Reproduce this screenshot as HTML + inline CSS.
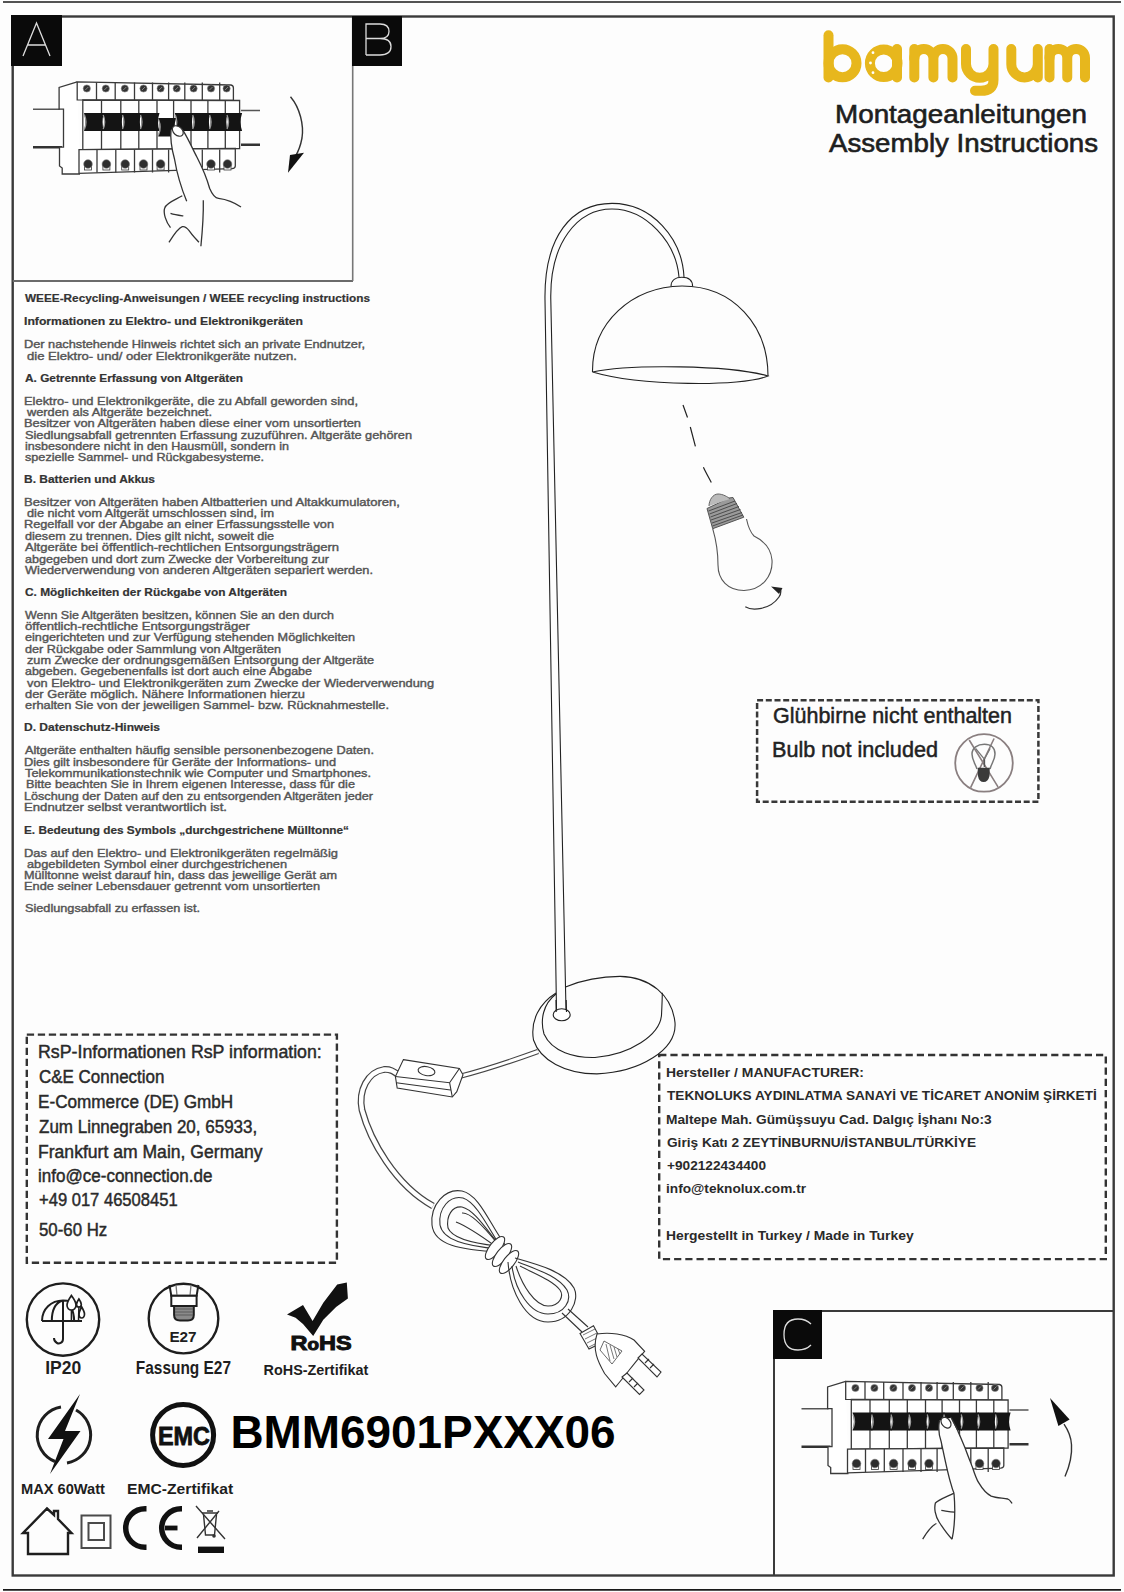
<!DOCTYPE html>
<html><head><meta charset="utf-8"><title>bamyum Montageanleitungen</title>
<style>
html,body{margin:0;padding:0;background:#fff;}
body{width:1124px;height:1592px;overflow:hidden;position:relative;font-family:"Liberation Sans", sans-serif;}
svg{position:absolute;left:0;top:0;display:block;}
text{font-family:"Liberation Sans", sans-serif;}
</style></head><body>
<svg width="1124" height="1592" viewBox="0 0 1124 1592">
<rect x="0" y="0" width="1124" height="1592" fill="#fdfdfd"/>
<line x1="3" y1="2" x2="1121" y2="2" stroke="#1a1a1a" stroke-width="1.6"/>
<line x1="3" y1="1589.8" x2="1121" y2="1589.8" stroke="#1a1a1a" stroke-width="1.8"/>
<rect x="12.7" y="16.5" width="1101" height="1559" fill="none" stroke="#3a3a3a" stroke-width="2.4"/>
<line x1="12.7" y1="281" x2="353" y2="281" stroke="#6a6a6a" stroke-width="2"/>
<line x1="352.7" y1="16.5" x2="352.7" y2="281" stroke="#777" stroke-width="1.6"/>
<rect x="11" y="15" width="51" height="51" fill="#0a0a0a"/>
<rect x="352" y="16" width="50" height="50" fill="#0a0a0a"/>
<line x1="773" y1="1311" x2="1113" y2="1311" stroke="#3a3a3a" stroke-width="2"/>
<line x1="774" y1="1311" x2="774" y2="1575" stroke="#3a3a3a" stroke-width="2"/>
<rect x="773" y="1310" width="49" height="49" fill="#0a0a0a"/>
<path d="M23 56 L36.5 23 L50 56 M27.5 45 L45.5 45" stroke="#ddd" stroke-width="1.3" fill="none"/>
<path d="M366 55 L366 24 L380 24 Q389 24 389 31.5 Q389 38.5 380 38.5 L366 38.5 M380 38.5 Q391 38.5 391 46.5 Q391 55 380 55 L366 55" stroke="#ddd" stroke-width="1.3" fill="none"/>
<path d="M811 1324 Q806 1319 798 1319 Q784 1319 784 1334.5 Q784 1350 798 1350 Q806 1350 811 1345" stroke="#ddd" stroke-width="1.3" fill="none"/>
<text x="25.0" y="302" font-size="10.9" font-weight="bold" fill="#333" stroke="#333" stroke-width="0.2" textLength="345.0" lengthAdjust="spacingAndGlyphs" >WEEE-Recycling-Anweisungen / WEEE recycling instructions</text>
<text x="24.0" y="325" font-size="10.9" font-weight="bold" fill="#333" stroke="#333" stroke-width="0.2" textLength="279.0" lengthAdjust="spacingAndGlyphs" >Informationen zu Elektro- und Elektronikgeräten</text>
<text x="24.0" y="348" font-size="10.9" font-weight="normal" fill="#555" stroke="#555" stroke-width="0.4" textLength="341.0" lengthAdjust="spacingAndGlyphs" >Der nachstehende Hinweis richtet sich an private Endnutzer,</text>
<text x="27.0" y="359.5" font-size="10.9" font-weight="normal" fill="#555" stroke="#555" stroke-width="0.4" textLength="270.0" lengthAdjust="spacingAndGlyphs" >die Elektro- und/ oder Elektronikgeräte nutzen.</text>
<text x="25.0" y="382" font-size="10.9" font-weight="bold" fill="#333" stroke="#333" stroke-width="0.2" textLength="218.0" lengthAdjust="spacingAndGlyphs" >A. Getrennte Erfassung von Altgeräten</text>
<text x="24.0" y="404.5" font-size="10.9" font-weight="normal" fill="#555" stroke="#555" stroke-width="0.4" textLength="334.0" lengthAdjust="spacingAndGlyphs" >Elektro- und Elektronikgeräte, die zu Abfall geworden sind,</text>
<text x="27.0" y="416" font-size="10.9" font-weight="normal" fill="#555" stroke="#555" stroke-width="0.4" textLength="185.0" lengthAdjust="spacingAndGlyphs" >werden als Altgeräte bezeichnet.</text>
<text x="24.0" y="427.3" font-size="10.9" font-weight="normal" fill="#555" stroke="#555" stroke-width="0.4" textLength="337.0" lengthAdjust="spacingAndGlyphs" >Besitzer von Altgeräten haben diese einer vom unsortierten</text>
<text x="25.0" y="438.5" font-size="10.9" font-weight="normal" fill="#555" stroke="#555" stroke-width="0.4" textLength="387.0" lengthAdjust="spacingAndGlyphs" >Siedlungsabfall getrennten Erfassung zuzuführen. Altgeräte gehören</text>
<text x="25.0" y="449.5" font-size="10.9" font-weight="normal" fill="#555" stroke="#555" stroke-width="0.4" textLength="264.0" lengthAdjust="spacingAndGlyphs" >insbesondere nicht in den Hausmüll, sondern in</text>
<text x="25.0" y="460.5" font-size="10.9" font-weight="normal" fill="#555" stroke="#555" stroke-width="0.4" textLength="239.0" lengthAdjust="spacingAndGlyphs" >spezielle Sammel- und Rückgabesysteme.</text>
<text x="24.0" y="483" font-size="10.9" font-weight="bold" fill="#333" stroke="#333" stroke-width="0.2" textLength="131.0" lengthAdjust="spacingAndGlyphs" >B. Batterien und Akkus</text>
<text x="24.0" y="505.7" font-size="10.9" font-weight="normal" fill="#555" stroke="#555" stroke-width="0.4" textLength="376.0" lengthAdjust="spacingAndGlyphs" >Besitzer von Altgeräten haben Altbatterien und Altakkumulatoren,</text>
<text x="27.0" y="517" font-size="10.9" font-weight="normal" fill="#555" stroke="#555" stroke-width="0.4" textLength="247.0" lengthAdjust="spacingAndGlyphs" >die nicht vom Altgerät umschlossen sind, im</text>
<text x="24.0" y="528.4" font-size="10.9" font-weight="normal" fill="#555" stroke="#555" stroke-width="0.4" textLength="310.0" lengthAdjust="spacingAndGlyphs" >Regelfall vor der Abgabe an einer Erfassungsstelle von</text>
<text x="25.0" y="539.8" font-size="10.9" font-weight="normal" fill="#555" stroke="#555" stroke-width="0.4" textLength="249.0" lengthAdjust="spacingAndGlyphs" >diesem zu trennen. Dies gilt nicht, soweit die</text>
<text x="25.0" y="551.2" font-size="10.9" font-weight="normal" fill="#555" stroke="#555" stroke-width="0.4" textLength="314.0" lengthAdjust="spacingAndGlyphs" >Altgeräte bei öffentlich-rechtlichen Entsorgungsträgern</text>
<text x="25.0" y="562.6" font-size="10.9" font-weight="normal" fill="#555" stroke="#555" stroke-width="0.4" textLength="304.0" lengthAdjust="spacingAndGlyphs" >abgegeben und dort zum Zwecke der Vorbereitung zur</text>
<text x="25.0" y="573.8" font-size="10.9" font-weight="normal" fill="#555" stroke="#555" stroke-width="0.4" textLength="348.0" lengthAdjust="spacingAndGlyphs" >Wiederverwendung von anderen Altgeräten separiert werden.</text>
<text x="25.0" y="596" font-size="10.9" font-weight="bold" fill="#333" stroke="#333" stroke-width="0.2" textLength="262.0" lengthAdjust="spacingAndGlyphs" >C. Möglichkeiten der Rückgabe von Altgeräten</text>
<text x="25.0" y="618.5" font-size="10.9" font-weight="normal" fill="#555" stroke="#555" stroke-width="0.4" textLength="309.0" lengthAdjust="spacingAndGlyphs" >Wenn Sie Altgeräten besitzen, können Sie an den durch</text>
<text x="25.0" y="630" font-size="10.9" font-weight="normal" fill="#555" stroke="#555" stroke-width="0.4" textLength="225.0" lengthAdjust="spacingAndGlyphs" >öffentlich-rechtliche Entsorgungsträger</text>
<text x="25.0" y="641.3" font-size="10.9" font-weight="normal" fill="#555" stroke="#555" stroke-width="0.4" textLength="330.0" lengthAdjust="spacingAndGlyphs" >eingerichteten und zur Verfügung stehenden Möglichkeiten</text>
<text x="25.0" y="652.7" font-size="10.9" font-weight="normal" fill="#555" stroke="#555" stroke-width="0.4" textLength="256.0" lengthAdjust="spacingAndGlyphs" >der Rückgabe oder Sammlung von Altgeräten</text>
<text x="27.0" y="664" font-size="10.9" font-weight="normal" fill="#555" stroke="#555" stroke-width="0.4" textLength="347.0" lengthAdjust="spacingAndGlyphs" >zum Zwecke der ordnungsgemäßen Entsorgung der Altgeräte</text>
<text x="25.0" y="675.2" font-size="10.9" font-weight="normal" fill="#555" stroke="#555" stroke-width="0.4" textLength="287.0" lengthAdjust="spacingAndGlyphs" >abgeben. Gegebenenfalls ist dort auch eine Abgabe</text>
<text x="27.0" y="686.5" font-size="10.9" font-weight="normal" fill="#555" stroke="#555" stroke-width="0.4" textLength="407.0" lengthAdjust="spacingAndGlyphs" >von Elektro- und Elektronikgeräten zum Zwecke der Wiederverwendung</text>
<text x="25.0" y="698" font-size="10.9" font-weight="normal" fill="#555" stroke="#555" stroke-width="0.4" textLength="280.0" lengthAdjust="spacingAndGlyphs" >der Geräte möglich. Nähere Informationen hierzu</text>
<text x="25.0" y="709.3" font-size="10.9" font-weight="normal" fill="#555" stroke="#555" stroke-width="0.4" textLength="364.0" lengthAdjust="spacingAndGlyphs" >erhalten Sie von der jeweiligen Sammel- bzw. Rücknahmestelle.</text>
<text x="24.0" y="730.5" font-size="10.9" font-weight="bold" fill="#333" stroke="#333" stroke-width="0.2" textLength="136.0" lengthAdjust="spacingAndGlyphs" >D. Datenschutz-Hinweis</text>
<text x="25.0" y="754.2" font-size="10.9" font-weight="normal" fill="#555" stroke="#555" stroke-width="0.4" textLength="349.0" lengthAdjust="spacingAndGlyphs" >Altgeräte enthalten häufig sensible personenbezogene Daten.</text>
<text x="24.0" y="765.6" font-size="10.9" font-weight="normal" fill="#555" stroke="#555" stroke-width="0.4" textLength="312.0" lengthAdjust="spacingAndGlyphs" >Dies gilt insbesondere für Geräte der Informations- und</text>
<text x="25.0" y="777" font-size="10.9" font-weight="normal" fill="#555" stroke="#555" stroke-width="0.4" textLength="346.0" lengthAdjust="spacingAndGlyphs" >Telekommunikationstechnik wie Computer und Smartphones.</text>
<text x="26.0" y="788.4" font-size="10.9" font-weight="normal" fill="#555" stroke="#555" stroke-width="0.4" textLength="329.0" lengthAdjust="spacingAndGlyphs" >Bitte beachten Sie in Ihrem eigenen Interesse, dass für die</text>
<text x="24.0" y="799.8" font-size="10.9" font-weight="normal" fill="#555" stroke="#555" stroke-width="0.4" textLength="349.0" lengthAdjust="spacingAndGlyphs" >Löschung der Daten auf den zu entsorgenden Altgeräten jeder</text>
<text x="24.0" y="810.8" font-size="10.9" font-weight="normal" fill="#555" stroke="#555" stroke-width="0.4" textLength="203.0" lengthAdjust="spacingAndGlyphs" >Endnutzer selbst verantwortlich ist.</text>
<text x="24.0" y="833.5" font-size="10.9" font-weight="bold" fill="#333" stroke="#333" stroke-width="0.2" textLength="325.0" lengthAdjust="spacingAndGlyphs" >E. Bedeutung des Symbols „durchgestrichene Mülltonne“</text>
<text x="24.0" y="856.7" font-size="10.9" font-weight="normal" fill="#555" stroke="#555" stroke-width="0.4" textLength="314.0" lengthAdjust="spacingAndGlyphs" >Das auf den Elektro- und Elektronikgeräten regelmäßig</text>
<text x="27.0" y="867.5" font-size="10.9" font-weight="normal" fill="#555" stroke="#555" stroke-width="0.4" textLength="260.0" lengthAdjust="spacingAndGlyphs" >abgebildeten Symbol einer durchgestrichenen</text>
<text x="24.0" y="878.5" font-size="10.9" font-weight="normal" fill="#555" stroke="#555" stroke-width="0.4" textLength="313.0" lengthAdjust="spacingAndGlyphs" >Mülltonne weist darauf hin, dass das jeweilige Gerät am</text>
<text x="24.0" y="889.5" font-size="10.9" font-weight="normal" fill="#555" stroke="#555" stroke-width="0.4" textLength="296.0" lengthAdjust="spacingAndGlyphs" >Ende seiner Lebensdauer getrennt vom unsortierten</text>
<text x="25.0" y="912.2" font-size="10.9" font-weight="normal" fill="#555" stroke="#555" stroke-width="0.4" textLength="175.0" lengthAdjust="spacingAndGlyphs" >Siedlungsabfall zu erfassen ist.</text>
<path d="M828.5,35.3 L828.5,77.5" fill="none" stroke="#E7B71D" stroke-width="10" stroke-linecap="round"/>
<circle cx="842.5" cy="63.2" r="14" fill="none" stroke="#E7B71D" stroke-width="10"/>
<circle cx="883.7" cy="63.2" r="13.8" fill="none" stroke="#E7B71D" stroke-width="10"/>
<path d="M897,49 L897,77.5" fill="none" stroke="#E7B71D" stroke-width="10" stroke-linecap="round"/>
<circle cx="873" cy="52.7" r="1.4" fill="#fff"/><circle cx="870.5" cy="63" r="1.4" fill="#fff"/><circle cx="873" cy="72.7" r="1.4" fill="#fff"/>
<path d="M914.3,77.5 L914.3,58.55000000000001 A9.550000000000011,9.550000000000011 0 0 1 933.4,58.55000000000001 L933.4,77.5 M933.4,58.55000000000001 A9.550000000000011,9.550000000000011 0 0 1 952.5,58.55000000000001 L952.5,77.5" fill="none" stroke="#E7B71D" stroke-width="10" stroke-linecap="round"/>
<path d="M914.3,49 L914.3,58.55000000000001" fill="none" stroke="#E7B71D" stroke-width="10" stroke-linecap="round"/>
<path d="M966,49 L966,64 A13.75,13.75 0 0 0 993.5,64 M993.5,49 L993.5,80 Q993.5,90.8 981,90.8 L975,90.8" fill="none" stroke="#E7B71D" stroke-width="10" stroke-linecap="round"/>
<path d="M1011.3,49 L1011.3,64.2 A13.25,13.25 0 0 0 1037.8,64.2 M1037.8,49 L1037.8,77.5" fill="none" stroke="#E7B71D" stroke-width="10" stroke-linecap="round"/>
<path d="M1049.5,77.5 L1049.5,57.875 A8.875,8.875 0 0 1 1067.25,57.875 L1067.25,77.5 M1067.25,57.875 A8.875,8.875 0 0 1 1085.0,57.875 L1085.0,77.5" fill="none" stroke="#E7B71D" stroke-width="10" stroke-linecap="round"/>
<path d="M1049.5,49 L1049.5,57.875" fill="none" stroke="#E7B71D" stroke-width="10" stroke-linecap="round"/>
<text x="835.0" y="122.7" font-size="25.5" font-weight="normal" fill="#1e1e1e" stroke="#1e1e1e" stroke-width="0.6" textLength="252.0" lengthAdjust="spacingAndGlyphs" >Montageanleitungen</text>
<text x="829.0" y="152" font-size="25.5" font-weight="normal" fill="#1e1e1e" stroke="#1e1e1e" stroke-width="0.6" textLength="269.0" lengthAdjust="spacingAndGlyphs" >Assembly Instructions</text>
<rect x="757.1" y="700.2" width="281.3" height="101.5" fill="none" stroke="#383838" stroke-width="2.5" stroke-dasharray="6 2.7"/>
<text x="773.0" y="723" font-size="22" font-weight="normal" fill="#222" stroke="#222" stroke-width="0.5" textLength="239.0" lengthAdjust="spacingAndGlyphs" >Glühbirne nicht enthalten</text>
<text x="772.0" y="756.9" font-size="22" font-weight="normal" fill="#222" stroke="#222" stroke-width="0.5" textLength="166.0" lengthAdjust="spacingAndGlyphs" >Bulb not included</text>
<circle cx="984" cy="762.9" r="28.8" fill="none" stroke="#8a7f80" stroke-width="1.8"/>
<path d="M969.2,740 L998,786.9 M994.1,738.5 L970.6,787.6" stroke="#8a7f80" stroke-width="1.6"/>
<path d="M977,769 C975,763 972,760 972,754 C972,748 977.5,744.2 984.4,744.2 C991,744.2 995,748 995,754 C995,760 991.5,763 990,769" fill="none" stroke="#777" stroke-width="1.5"/>
<path d="M975.6,748.5 L984.4,759.2 L990.2,748.5" fill="none" stroke="#777" stroke-width="1.2"/>
<path d="M984.4,759.2 L984.4,767" stroke="#555" stroke-width="1.5"/>
<path d="M977.7,767.7 L989.8,767.7 L989.5,776 Q988,782 983.7,782 Q979,782 978,776 Z" fill="#3a3a3a"/>
<rect x="26.8" y="1034.6" width="310.1" height="228.1" fill="none" stroke="#333" stroke-width="2.4" stroke-dasharray="7.3 3.7"/>
<text x="38.0" y="1058.4" font-size="17.5" font-weight="normal" fill="#2a2a2a" stroke="#2a2a2a" stroke-width="0.45" textLength="283.8" lengthAdjust="spacingAndGlyphs" >RsP-Informationen RsP information:</text>
<text x="39.0" y="1083.1" font-size="17.5" font-weight="normal" fill="#2a2a2a" stroke="#2a2a2a" stroke-width="0.45" textLength="125.4" lengthAdjust="spacingAndGlyphs" >C&amp;E Connection</text>
<text x="38.0" y="1108" font-size="17.5" font-weight="normal" fill="#2a2a2a" stroke="#2a2a2a" stroke-width="0.45" textLength="195.2" lengthAdjust="spacingAndGlyphs" >E-Commerce (DE) GmbH</text>
<text x="39.0" y="1133" font-size="17.5" font-weight="normal" fill="#2a2a2a" stroke="#2a2a2a" stroke-width="0.45" textLength="218.2" lengthAdjust="spacingAndGlyphs" >Zum Linnegraben 20, 65933,</text>
<text x="38.0" y="1157.7" font-size="17.5" font-weight="normal" fill="#2a2a2a" stroke="#2a2a2a" stroke-width="0.45" textLength="224.6" lengthAdjust="spacingAndGlyphs" >Frankfurt am Main, Germany</text>
<text x="38.0" y="1181.8" font-size="17.5" font-weight="normal" fill="#2a2a2a" stroke="#2a2a2a" stroke-width="0.45" textLength="174.4" lengthAdjust="spacingAndGlyphs" >info@ce-connection.de</text>
<text x="39.0" y="1205.8" font-size="17.5" font-weight="normal" fill="#2a2a2a" stroke="#2a2a2a" stroke-width="0.45" textLength="138.6" lengthAdjust="spacingAndGlyphs" >+49 017 46508451</text>
<text x="39.0" y="1236.2" font-size="17.5" font-weight="normal" fill="#2a2a2a" stroke="#2a2a2a" stroke-width="0.45" textLength="68.2" lengthAdjust="spacingAndGlyphs" >50-60 Hz</text>
<rect x="659.2" y="1055" width="446.6" height="204.1" fill="none" stroke="#333" stroke-width="2.4" stroke-dasharray="7.2 4"/>
<text x="666.0" y="1076.8" font-size="13.6" font-weight="bold" fill="#2a2a2a" textLength="198.0" lengthAdjust="spacingAndGlyphs" >Hersteller / MANUFACTURER:</text>
<text x="667.0" y="1100.2" font-size="13.6" font-weight="bold" fill="#2a2a2a" textLength="429.8" lengthAdjust="spacingAndGlyphs" >TEKNOLUKS AYDINLATMA SANAYİ VE TİCARET ANONİM ŞİRKETİ</text>
<text x="666.0" y="1123.5" font-size="13.6" font-weight="bold" fill="#2a2a2a" textLength="325.6" lengthAdjust="spacingAndGlyphs" >Maltepe Mah. Gümüşsuyu Cad. Dalgıç İşhanı No:3</text>
<text x="667.0" y="1146.5" font-size="13.6" font-weight="bold" fill="#2a2a2a" textLength="309.0" lengthAdjust="spacingAndGlyphs" >Giriş Katı 2 ZEYTİNBURNU/İSTANBUL/TÜRKİYE</text>
<text x="667.0" y="1169.9" font-size="13.6" font-weight="bold" fill="#2a2a2a" textLength="99.0" lengthAdjust="spacingAndGlyphs" >+902122434400</text>
<text x="666.0" y="1192.7" font-size="13.6" font-weight="bold" fill="#2a2a2a" textLength="140.0" lengthAdjust="spacingAndGlyphs" >info@teknolux.com.tr</text>
<text x="666.0" y="1240.3" font-size="13.6" font-weight="bold" fill="#2a2a2a" textLength="247.6" lengthAdjust="spacingAndGlyphs" >Hergestellt in Turkey / Made in Turkey</text>
<text x="45.20000000000002" y="1374.3" font-size="17.5" font-weight="bold" fill="#1e1e1e" textLength="36.0" lengthAdjust="spacingAndGlyphs" >IP20</text>
<text x="135.80000000000007" y="1374.3" font-size="17.5" font-weight="bold" fill="#1e1e1e" textLength="95.2" lengthAdjust="spacingAndGlyphs" >Fassung E27</text>
<text x="263.60000000000014" y="1374.8" font-size="14" font-weight="bold" fill="#1e1e1e" textLength="104.6" lengthAdjust="spacingAndGlyphs" >RoHS-Zertifikat</text>
<text x="21.0" y="1494.3" font-size="15" font-weight="bold" fill="#1e1e1e" textLength="84.0" lengthAdjust="spacingAndGlyphs" >MAX 60Watt</text>
<text x="127.0" y="1494.3" font-size="15" font-weight="bold" fill="#1e1e1e" textLength="106.2" lengthAdjust="spacingAndGlyphs" >EMC-Zertifikat</text>
<text x="230.40000000000003" y="1447.7" font-size="46" font-weight="bold" fill="#000" textLength="385.2" lengthAdjust="spacingAndGlyphs" >BMM6901PXXX06</text>
<circle cx="63" cy="1319.6" r="36.2" fill="none" stroke="#1e1e1e" stroke-width="2.4"/>
<path d="M42,1321 C42,1309 51,1300.5 63,1300.5 C70,1300.5 74,1303 77,1306 M42,1321 L82,1321 M51.8,1321 C51.8,1310 56,1303 62,1300.8 M63,1321 L63,1301 M74.2,1321 C74,1314 72.5,1310 71,1307 M63,1321 L63,1339 C63,1343 59,1344 57,1343 C55,1342 54,1340 54,1338" fill="none" stroke="#1e1e1e" stroke-width="2"/>
<path d="M71.4,1295.5 C69,1299 67,1302 67,1305 C67,1308 69,1310 71.4,1310 C74,1310 76,1308 76,1305 C76,1302 74,1299 71.4,1295.5 Z M78.9,1299 C77.5,1301 76.5,1303 76.5,1304.5 C76.5,1306 77.5,1307 78.9,1307 C80.3,1307 81.3,1306 81.3,1304.5 C81.3,1303 80.3,1301 78.9,1299 Z M81.7,1307 C80,1310 79,1312 79,1314 C79,1316 80,1318 81.7,1318 C83.4,1318 84.5,1316 84.5,1314 C84.5,1312 83.4,1310 81.7,1307 Z" fill="#fff" stroke="#1e1e1e" stroke-width="1.7"/>
<path d="M71.4,1310 L71.4,1321 M78.9,1307 L78.5,1321" stroke="#1e1e1e" stroke-width="1.5"/>
<circle cx="183.5" cy="1318.6" r="34.8" fill="none" stroke="#1e1e1e" stroke-width="2.4"/>
<path d="M169.5,1285 L171.3,1295.8 L196.6,1295.8 L198.4,1285" fill="none" stroke="#1e1e1e" stroke-width="2"/>
<path d="M176,1285 L177,1295.8 M191,1285 L190,1295.8" stroke="#777" stroke-width="1.3"/>
<rect x="171.3" y="1295.8" width="25.3" height="10.2" fill="#fff" stroke="#1e1e1e" stroke-width="2"/>
<path d="M174.1,1306 L174.1,1315 Q174.1,1320.5 180,1320.5 L188,1320.5 Q193.8,1320.5 193.8,1315 L193.8,1306 Z" fill="#8a8a8a" stroke="#1e1e1e" stroke-width="2"/>
<path d="M175,1309 L193,1309 M175,1312 L193,1312 M175,1315 L193,1315" stroke="#555" stroke-width="0.9"/>
<text x="169.40000000000003" y="1341.5" font-size="14" font-weight="bold" fill="#1e1e1e" textLength="27.2" lengthAdjust="spacingAndGlyphs" >E27</text>
<path d="M287,1314.5 L303,1304.9 L312.6,1320.9 L323.3,1302.8 L337.2,1284.6 L346.8,1282.5 L347.9,1298.5 L336.1,1307 L323.3,1319.8 L313.2,1335.9 L303,1324.1 L295.6,1317.7 Z" fill="#111"/>
<text x="290.6" y="1350.3" font-size="20" font-weight="bold" fill="#111" stroke="#111" stroke-width="1" textLength="61" lengthAdjust="spacingAndGlyphs">R<tspan font-size="16">o</tspan>HS</text>
<path d="M61,1407 A28.5,28.5 0 0 0 55,1461.5 M76,1410 A28.5,28.5 0 0 1 67,1463" fill="none" stroke="#1e1e1e" stroke-width="3"/>
<path d="M80,1394 L48,1439 L63.5,1439 L50,1474 L80.5,1431 L65,1431 Z" fill="#111"/>
<circle cx="183.1" cy="1435" r="30.5" fill="none" stroke="#111" stroke-width="5"/>
<text x="158" y="1445" font-size="25" font-weight="bold" fill="#111" stroke="#111" stroke-width="0.8" textLength="52" lengthAdjust="spacingAndGlyphs">EMC</text>
<path d="M28,1533 L28,1554 L68,1554 L68,1533 L71.5,1533 L58,1519 L58,1511 L54,1511 L54,1515 L47,1508.5 L23,1533 Z" fill="none" stroke="#1e1e1e" stroke-width="2.4" stroke-linejoin="miter"/>
<rect x="81.5" y="1515.5" width="29" height="32.5" fill="none" stroke="#4a4a4a" stroke-width="2"/>
<rect x="88.5" y="1523" width="15.5" height="17" fill="none" stroke="#4a4a4a" stroke-width="2"/>
<path d="M146.5,1508.7 L145,1508.7 A19.3,19.3 0 0 0 145,1547.3 L146.5,1547.3" fill="none" stroke="#111" stroke-width="5.5"/>
<path d="M182,1508.7 L181,1508.7 A19.3,19.3 0 0 0 181,1547.3 L182,1547.3" fill="none" stroke="#111" stroke-width="5.5"/>
<path d="M165,1528 L177.5,1528" stroke="#111" stroke-width="4.8"/>
<path d="M196,1506 L225,1539 M219,1511 L197,1538" stroke="#333" stroke-width="1.4"/>
<path d="M203.5,1514.5 L205.5,1535 L214.5,1535 L216.5,1514.5 M202,1513 L218,1513 M207,1511 L213,1511" fill="none" stroke="#333" stroke-width="1.4"/>
<circle cx="214" cy="1536" r="1.8" fill="#333"/>
<rect x="198" y="1546.6" width="26" height="6.4" fill="#111"/>
<path d="M556.5,1010 L545,300 C544,236 572,203.4 612,203.4 C652,203.4 682,238 684,277" fill="none" stroke="#222" stroke-width="1.1"/>
<path d="M566,1010 L550.8,300 C549.5,242 578,209 612,209 C646,209 676,242 679,277" fill="none" stroke="#222" stroke-width="1.1"/>
<path d="M671,286.5 C671,280 676,277.3 681.8,277.3 C688,277.3 692.6,280 692.6,286.5" fill="none" stroke="#222" stroke-width="1.1"/>
<path d="M592.5,372 C592,322 632,287 682,286 C733,286 768,325 768,376" fill="none" stroke="#222" stroke-width="1.1"/>
<path d="M592.5,372 C630,364 730,365 768,376 C742,387 640,386 592.5,372 Z" fill="none" stroke="#222" stroke-width="1.1"/>
<path d="M565.5,987 C580,981 600,976.4 620,976.4 C650,977 672,995 675,1022.6 C677,1050 640,1072 597,1073.9 C565,1074 540,1060 533.5,1040 C530,1020 540,1003 556,993" fill="none" stroke="#222" stroke-width="1.1"/>
<path d="M556,994 C543,1004 540,1020 544,1034 C552,1052 575,1058 595,1057.5 C630,1055 660,1035 661.5,1015 C662,1005 662.3,998 662.3,992.7" fill="none" stroke="#222" stroke-width="1.1"/>
<ellipse cx="561.7" cy="1014.8" rx="8.5" ry="6" fill="#fff" fill="none" stroke="#222" stroke-width="1.1"/>
<path d="M556.2,1012 L556,1000 M566.5,1012 L566.2,1000" fill="none" stroke="#222" stroke-width="1.1"/>
<path d="M683,405 L687.5,417.5 M690.3,427 L695.4,446.4 M703.4,467.3 C706,473 709,478 711.3,482.5" fill="none" stroke="#222" stroke-width="1.2"/>
<path d="M712.7,528.7 C716,540 718,550 718,565 C718,580 728,590.5 744,590.5 C762,590 773,576 772,560 C771,548 764,541 754,536 C750,532 748,526 746.5,519" fill="none" stroke="#555" stroke-width="1.1"/>
<path d="M707,508.5 L729,498 L733,497.5 L743.8,517.2 L712.7,528.7 Z" fill="#9a9a9a" stroke="#555" stroke-width="1"/>
<path d="M708.5,511 L735,501 M709.5,514 L737,503.5 M710.5,517 L739,506.5 M711,520 L740.5,509.5 M712,523 L742,512.5 M712.5,526 L743,515" stroke="#444" stroke-width="0.9"/>
<path d="M709,506 C709,500 713,494 718,494 C723,494 728,497 730,499" fill="#bbb" stroke="#666" stroke-width="1"/>
<path d="M745.3,606.8 C752,611 770,610 779,597 C781,594 781,591 780.5,589" fill="none" stroke="#333" stroke-width="1.3"/>
<path d="M771,586.5 L782.5,588 L779,594 Z" fill="#222"/>
<path d="M538,1051.5 C520,1058 485,1070 461,1076" fill="none" stroke="#444" stroke-width="5.2"/>
<path d="M538,1051.5 C520,1058 485,1070 461,1076" fill="none" stroke="#fff" stroke-width="3.0"/>
<path d="M399,1075 C393,1071 390,1069 384,1069.5 C368,1072 358,1090 362,1110 C370,1140 395,1185 433,1206" fill="none" stroke="#444" stroke-width="6.8"/>
<path d="M399,1075 C393,1071 390,1069 384,1069.5 C368,1072 358,1090 362,1110 C370,1140 395,1185 433,1206" fill="none" stroke="#fff" stroke-width="4.4"/>
<path d="M403.4,1059.6 L459.4,1068.5 L463,1074.7 L456.8,1091.6 L452.3,1097 L397.2,1088 L395.4,1076.5 Z" fill="#fff" stroke="#333" stroke-width="1.1"/>
<path d="M395.4,1076.5 L449.6,1082.7 L459.4,1068.5 M449.6,1082.7 L452.3,1097 M396.3,1082.7 L450.5,1090" fill="none" stroke="#333" stroke-width="1.1"/>
<ellipse cx="426.5" cy="1071.1" rx="8.5" ry="4.5" transform="rotate(10 426.5 1071.1)" fill="none" stroke="#333" stroke-width="1.1"/>
<path d="M506,1246 C490,1225 480,1195 462,1191 C445,1188 430,1205 432,1225 C434,1245 460,1250 500,1252" fill="none" stroke="#333" stroke-width="1.1"/>
<path d="M503,1250 C490,1232 478,1203 463,1198 C450,1195 438,1208 440,1225 C443,1240 465,1246 499,1249" fill="none" stroke="#333" stroke-width="1.1"/>
<path d="M501,1247 C488,1232 475,1210 462,1207 C452,1206 446,1216 448,1228 C452,1238 470,1243 497,1246" fill="none" stroke="#333" stroke-width="1.1"/>
<path d="M497,1243 C485,1228 470,1212 462,1213 M495,1246 C480,1235 466,1226 456,1222" fill="none" stroke="#333" stroke-width="1.1"/>
<ellipse cx="495" cy="1248" rx="14" ry="5.5" transform="rotate(-52 495 1248)" fill="#fff" stroke="#333" stroke-width="1.1"/>
<ellipse cx="502" cy="1255" rx="14" ry="5.5" transform="rotate(-52 502 1255)" fill="#fff" stroke="#333" stroke-width="1.1"/>
<ellipse cx="509" cy="1262" rx="14" ry="5.5" transform="rotate(-52 509 1262)" fill="#fff" stroke="#333" stroke-width="1.1"/>
<path d="M508,1262 C510,1290 525,1322 548,1322 C570,1322 580,1300 574,1288 C565,1272 540,1265 515,1258" fill="none" stroke="#333" stroke-width="1.1"/>
<path d="M512,1266 C515,1290 530,1314 548,1314 C565,1314 572,1300 567,1290 C558,1276 538,1270 518,1262" fill="none" stroke="#333" stroke-width="1.1"/>
<path d="M516,1266 C522,1285 535,1306 548,1306 C560,1306 564,1296 560,1290 C552,1280 535,1274 520,1266" fill="none" stroke="#333" stroke-width="1.1"/>
<path d="M562,1313 L582,1332 M568,1309 L588,1327" fill="none" stroke="#333" stroke-width="1.1"/>
<path d="M580,1333.5 L593.5,1325.7 L602.4,1342.4 L589,1349 Z" fill="#fff" stroke="#333" stroke-width="1.1"/>
<path d="M583,1335 L595,1329 M585,1339 L597,1333 M587,1343 L599,1337 M589,1347 L601,1341" stroke="#555" stroke-width="0.8"/>
<path d="M597,1334 C610,1332 625,1334 634,1340 L644.6,1351.3 C635,1362 625,1376 615.7,1386.8 L604.6,1373.5 C598,1362 592,1350 597,1334 Z" fill="#fff" stroke="#333" stroke-width="1.1"/>
<path d="M604,1341 L622,1351 L612,1364 L600,1350 Z" fill="#fff" stroke="#444" stroke-width="0.8"/>
<path d="M606,1344 L610,1361 M610,1345 L614,1359 M614,1347 L617,1357 M618,1349 L620,1354" stroke="#555" stroke-width="0.8"/>
<path d="M638,1358 L642,1354 L661,1372 L657,1377 Z M622,1377 L627,1373 L644,1390 L639.5,1394.5 Z" fill="#fff" stroke="#333" stroke-width="1.1"/>
<path d="M645,1363 L649,1359 M650,1368 L654,1364 M629,1382 L633,1378 M634,1387 L638,1383" fill="none" stroke="#333" stroke-width="1.1"/>
<path d="M33.0,109.3 L60.0,109.3 M241.0,110.5 L260.0,110.5" stroke="#555" stroke-width="1.5"/>
<path d="M33.0,147.2 L62.0,147.2 M241.0,144.7 L260.0,144.7" stroke="#333" stroke-width="2.6"/>
<path d="M77.2,81.8 L59.1,87.5 L59.1,109.2 L63.5,109.2 L63.5,147.2 L59.5,147.2 L59.5,166.0 L62.2,168.0 L62.2,174.0 L80.0,174.0" fill="#fff" stroke="#3a3a3a" stroke-width="1.3"/>
<path d="M77.2,81.8 L231.0,85.0 Q233.4,85.5 233.4,88.0 L233.4,100.5 L77.2,99.9 Z" fill="#fff" stroke="#3a3a3a" stroke-width="1.3"/>
<path d="M96.5,82.5 L96.5,100.0" fill="none" stroke="#3a3a3a" stroke-width="1.3"/>
<path d="M115.2,82.5 L115.2,100.0" fill="none" stroke="#3a3a3a" stroke-width="1.3"/>
<path d="M134.5,82.5 L134.5,100.0" fill="none" stroke="#3a3a3a" stroke-width="1.3"/>
<path d="M152.5,82.5 L152.5,100.0" fill="none" stroke="#3a3a3a" stroke-width="1.3"/>
<path d="M168.6,82.5 L168.6,100.0" fill="none" stroke="#3a3a3a" stroke-width="1.3"/>
<path d="M184.8,82.5 L184.8,100.0" fill="none" stroke="#3a3a3a" stroke-width="1.3"/>
<path d="M202.3,82.5 L202.3,100.0" fill="none" stroke="#3a3a3a" stroke-width="1.3"/>
<path d="M219.7,82.5 L219.7,100.0" fill="none" stroke="#3a3a3a" stroke-width="1.3"/>
<circle cx="86.8" cy="88.5" r="3.6" fill="#333" stroke="#888" stroke-width="0.6"/>
<path d="M85.3,90.0 L88.3,87.0" stroke="#aaa" stroke-width="0.7"/>
<circle cx="105.8" cy="88.5" r="3.6" fill="#333" stroke="#888" stroke-width="0.6"/>
<path d="M104.3,90.0 L107.3,87.0" stroke="#aaa" stroke-width="0.7"/>
<circle cx="124.8" cy="88.5" r="3.6" fill="#333" stroke="#888" stroke-width="0.6"/>
<path d="M123.3,90.0 L126.3,87.0" stroke="#aaa" stroke-width="0.7"/>
<circle cx="143.5" cy="88.5" r="3.6" fill="#333" stroke="#888" stroke-width="0.6"/>
<path d="M142.0,90.0 L145.0,87.0" stroke="#aaa" stroke-width="0.7"/>
<circle cx="160.6" cy="88.5" r="3.6" fill="#333" stroke="#888" stroke-width="0.6"/>
<path d="M159.1,90.0 L162.1,87.0" stroke="#aaa" stroke-width="0.7"/>
<circle cx="176.7" cy="88.5" r="3.6" fill="#333" stroke="#888" stroke-width="0.6"/>
<path d="M175.2,90.0 L178.2,87.0" stroke="#aaa" stroke-width="0.7"/>
<circle cx="193.6" cy="88.5" r="3.6" fill="#333" stroke="#888" stroke-width="0.6"/>
<path d="M192.1,90.0 L195.1,87.0" stroke="#aaa" stroke-width="0.7"/>
<circle cx="211.0" cy="88.5" r="3.6" fill="#333" stroke="#888" stroke-width="0.6"/>
<path d="M209.5,90.0 L212.5,87.0" stroke="#aaa" stroke-width="0.7"/>
<circle cx="226.6" cy="88.5" r="3.6" fill="#333" stroke="#888" stroke-width="0.6"/>
<path d="M225.1,90.0 L228.1,87.0" stroke="#aaa" stroke-width="0.7"/>
<path d="M82.8,100.0 L239.6,100.5 L239.6,148.5 L82.8,149.7 Z" fill="#fff" stroke="#3a3a3a" stroke-width="1.3"/>
<path d="M101.5,100.0 L101.5,149.0" fill="none" stroke="#3a3a3a" stroke-width="1.3"/>
<path d="M120.8,100.0 L120.8,149.0" fill="none" stroke="#3a3a3a" stroke-width="1.3"/>
<path d="M138.8,100.0 L138.8,149.0" fill="none" stroke="#3a3a3a" stroke-width="1.3"/>
<path d="M157.0,100.0 L157.0,149.0" fill="none" stroke="#3a3a3a" stroke-width="1.3"/>
<path d="M173.6,100.0 L173.6,149.0" fill="none" stroke="#3a3a3a" stroke-width="1.3"/>
<path d="M191.0,100.0 L191.0,149.0" fill="none" stroke="#3a3a3a" stroke-width="1.3"/>
<path d="M207.9,100.0 L207.9,149.0" fill="none" stroke="#3a3a3a" stroke-width="1.3"/>
<path d="M225.3,100.0 L225.3,149.0" fill="none" stroke="#3a3a3a" stroke-width="1.3"/>
<path d="M79.0,149.7 L235.3,148.5 L235.3,166.0 Q235.3,168.4 232.0,168.6 L79.0,173.4 Z" fill="#fff" stroke="#3a3a3a" stroke-width="1.3"/>
<path d="M97.0,149.5 L97.0,172.5" fill="none" stroke="#3a3a3a" stroke-width="1.3"/>
<path d="M115.8,149.5 L115.8,172.5" fill="none" stroke="#3a3a3a" stroke-width="1.3"/>
<path d="M134.5,149.5 L134.5,172.5" fill="none" stroke="#3a3a3a" stroke-width="1.3"/>
<path d="M152.5,149.5 L152.5,172.5" fill="none" stroke="#3a3a3a" stroke-width="1.3"/>
<path d="M168.6,149.5 L168.6,172.5" fill="none" stroke="#3a3a3a" stroke-width="1.3"/>
<path d="M185.0,149.5 L185.0,172.5" fill="none" stroke="#3a3a3a" stroke-width="1.3"/>
<path d="M202.3,149.5 L202.3,172.5" fill="none" stroke="#3a3a3a" stroke-width="1.3"/>
<path d="M219.7,149.5 L219.7,172.5" fill="none" stroke="#3a3a3a" stroke-width="1.3"/>
<rect x="84.5" y="164.0" width="7" height="6" fill="#fff" stroke="#3a3a3a" stroke-width="0.8"/>
<circle cx="88.0" cy="164.0" r="4.3" fill="#2e2e2e" stroke="#777" stroke-width="0.6"/>
<rect x="102.9" y="164.0" width="7" height="6" fill="#fff" stroke="#3a3a3a" stroke-width="0.8"/>
<circle cx="106.4" cy="164.0" r="4.3" fill="#2e2e2e" stroke="#777" stroke-width="0.6"/>
<rect x="121.7" y="164.0" width="7" height="6" fill="#fff" stroke="#3a3a3a" stroke-width="0.8"/>
<circle cx="125.2" cy="164.0" r="4.3" fill="#2e2e2e" stroke="#777" stroke-width="0.6"/>
<rect x="140.0" y="164.0" width="7" height="6" fill="#fff" stroke="#3a3a3a" stroke-width="0.8"/>
<circle cx="143.5" cy="164.0" r="4.3" fill="#2e2e2e" stroke="#777" stroke-width="0.6"/>
<rect x="157.1" y="164.0" width="7" height="6" fill="#fff" stroke="#3a3a3a" stroke-width="0.8"/>
<circle cx="160.6" cy="164.0" r="4.3" fill="#2e2e2e" stroke="#777" stroke-width="0.6"/>
<rect x="207.5" y="164.0" width="7" height="6" fill="#fff" stroke="#3a3a3a" stroke-width="0.8"/>
<circle cx="211.0" cy="164.0" r="4.3" fill="#2e2e2e" stroke="#777" stroke-width="0.6"/>
<rect x="224.0" y="164.0" width="7" height="6" fill="#fff" stroke="#3a3a3a" stroke-width="0.8"/>
<circle cx="227.5" cy="164.0" r="4.3" fill="#2e2e2e" stroke="#777" stroke-width="0.6"/>
<path d="M84.0,113.0 L104.0,113.0 Q101.0,122.0 104.0,131.0 L84.0,131.0 Q87.0,122.0 84.0,113.0 Z" fill="#141414"/>
<path d="M84.5,115.0 Q87.5,122.0 84.5,129.0" fill="none" stroke="#999" stroke-width="1.3"/>
<path d="M102.7,113.0 L123.3,113.0 Q120.3,122.0 123.3,131.0 L102.7,131.0 Q105.7,122.0 102.7,113.0 Z" fill="#141414"/>
<path d="M103.2,115.0 Q106.2,122.0 103.2,129.0" fill="none" stroke="#999" stroke-width="1.3"/>
<path d="M122.0,113.0 L141.3,113.0 Q138.3,122.0 141.3,131.0 L122.0,131.0 Q125.0,122.0 122.0,113.0 Z" fill="#141414"/>
<path d="M122.5,115.0 Q125.5,122.0 122.5,129.0" fill="none" stroke="#999" stroke-width="1.3"/>
<path d="M140.0,113.0 L159.5,113.0 Q156.5,122.0 159.5,131.0 L140.0,131.0 Q143.0,122.0 140.0,113.0 Z" fill="#141414"/>
<path d="M140.5,115.0 Q143.5,122.0 140.5,129.0" fill="none" stroke="#999" stroke-width="1.3"/>
<path d="M158.2,118.0 L176.1,118.0 Q173.1,127.3 176.1,136.6 L158.2,136.6 Q161.2,127.3 158.2,118.0 Z" fill="#141414"/>
<path d="M158.7,120.0 Q161.7,127.3 158.7,134.6" fill="none" stroke="#999" stroke-width="1.3"/>
<path d="M174.8,113.0 L193.5,113.0 Q190.5,122.0 193.5,131.0 L174.8,131.0 Q177.8,122.0 174.8,113.0 Z" fill="#141414"/>
<path d="M175.3,115.0 Q178.3,122.0 175.3,129.0" fill="none" stroke="#999" stroke-width="1.3"/>
<path d="M192.2,113.0 L210.4,113.0 Q207.4,122.0 210.4,131.0 L192.2,131.0 Q195.2,122.0 192.2,113.0 Z" fill="#141414"/>
<path d="M192.7,115.0 Q195.7,122.0 192.7,129.0" fill="none" stroke="#999" stroke-width="1.3"/>
<path d="M209.1,113.0 L227.8,113.0 Q224.8,122.0 227.8,131.0 L209.1,131.0 Q212.1,122.0 209.1,113.0 Z" fill="#141414"/>
<path d="M209.6,115.0 Q212.6,122.0 209.6,129.0" fill="none" stroke="#999" stroke-width="1.3"/>
<path d="M226.5,113.0 L242.1,113.0 Q239.1,122.0 242.1,131.0 L226.5,131.0 Q229.5,122.0 226.5,113.0 Z" fill="#141414"/>
<path d="M227.0,115.0 Q230.0,122.0 227.0,129.0" fill="none" stroke="#999" stroke-width="1.3"/>
<path d="M171,129.8 C170,140 172,150 174.5,159 C176,168 180,185 186.7,201.2 L218.5,198.3 C212,192 209.7,188.5 209.7,188.5 C206,175 201,163 197,157.2 C193,150 189,140 183.3,130.8 Z" fill="#fdfdfd" stroke="none"/>
<path d="M171,129.8 C170,140 172,150 174.5,159 C176,168 180,185 186.7,201.2 M183.3,130.8 C189,140 193,150 197,157.2 C201,165 206,175 209.7,188.5 C212,194 215,198 218.5,198.3 C224,199 231,200 241,207 M182.3,195.8 C175,200 166,203 164.7,208 C163,213 166,222 170.5,227.6 M170.5,213.4 C175,215 180,215.5 183.3,215.9 M169,242.3 C173,236 178,228 182.3,226.7 C185,226 187,228 189.1,230.6 C192,235 196,239 198.9,242.3 M203.3,200.2 C203.5,210 203,225 200.9,246.2" fill="none" stroke="#333" stroke-width="1.3"/>
<ellipse cx="177.8" cy="131" rx="6.2" ry="4.3" transform="rotate(42 177.8 131)" fill="#fff" stroke="#333" stroke-width="1.2"/>
<path d="M290.5,96.7 C300,108 304,125 302,138 C300.5,146 298,152 295.5,156" fill="none" stroke="#333" stroke-width="1.4"/>
<path d="M288,172.7 L290,155 L304,152.7 Z" fill="#111"/>
<path d="M801.5,1408.8 L828.5,1408.8 M1009.5,1410.0 L1028.5,1410.0" stroke="#555" stroke-width="1.5"/>
<path d="M801.5,1446.7 L830.5,1446.7 M1009.5,1444.2 L1028.5,1444.2" stroke="#333" stroke-width="2.6"/>
<path d="M845.7,1381.3 L827.6,1387.0 L827.6,1408.7 L832.0,1408.7 L832.0,1446.7 L828.0,1446.7 L828.0,1465.5 L830.7,1467.5 L830.7,1473.5 L848.5,1473.5" fill="#fff" stroke="#3a3a3a" stroke-width="1.3"/>
<path d="M845.7,1381.3 L999.5,1384.5 Q1001.9,1385.0 1001.9,1387.5 L1001.9,1400.0 L845.7,1399.4 Z" fill="#fff" stroke="#3a3a3a" stroke-width="1.3"/>
<path d="M865.0,1382.0 L865.0,1399.5" fill="none" stroke="#3a3a3a" stroke-width="1.3"/>
<path d="M883.7,1382.0 L883.7,1399.5" fill="none" stroke="#3a3a3a" stroke-width="1.3"/>
<path d="M903.0,1382.0 L903.0,1399.5" fill="none" stroke="#3a3a3a" stroke-width="1.3"/>
<path d="M921.0,1382.0 L921.0,1399.5" fill="none" stroke="#3a3a3a" stroke-width="1.3"/>
<path d="M937.1,1382.0 L937.1,1399.5" fill="none" stroke="#3a3a3a" stroke-width="1.3"/>
<path d="M953.3,1382.0 L953.3,1399.5" fill="none" stroke="#3a3a3a" stroke-width="1.3"/>
<path d="M970.8,1382.0 L970.8,1399.5" fill="none" stroke="#3a3a3a" stroke-width="1.3"/>
<path d="M988.2,1382.0 L988.2,1399.5" fill="none" stroke="#3a3a3a" stroke-width="1.3"/>
<circle cx="855.4" cy="1388.0" r="3.6" fill="#333" stroke="#888" stroke-width="0.6"/>
<path d="M853.9,1389.5 L856.9,1386.5" stroke="#aaa" stroke-width="0.7"/>
<circle cx="874.4" cy="1388.0" r="3.6" fill="#333" stroke="#888" stroke-width="0.6"/>
<path d="M872.9,1389.5 L875.9,1386.5" stroke="#aaa" stroke-width="0.7"/>
<circle cx="893.4" cy="1388.0" r="3.6" fill="#333" stroke="#888" stroke-width="0.6"/>
<path d="M891.9,1389.5 L894.9,1386.5" stroke="#aaa" stroke-width="0.7"/>
<circle cx="912.0" cy="1388.0" r="3.6" fill="#333" stroke="#888" stroke-width="0.6"/>
<path d="M910.5,1389.5 L913.5,1386.5" stroke="#aaa" stroke-width="0.7"/>
<circle cx="929.0" cy="1388.0" r="3.6" fill="#333" stroke="#888" stroke-width="0.6"/>
<path d="M927.5,1389.5 L930.5,1386.5" stroke="#aaa" stroke-width="0.7"/>
<circle cx="945.2" cy="1388.0" r="3.6" fill="#333" stroke="#888" stroke-width="0.6"/>
<path d="M943.7,1389.5 L946.7,1386.5" stroke="#aaa" stroke-width="0.7"/>
<circle cx="962.0" cy="1388.0" r="3.6" fill="#333" stroke="#888" stroke-width="0.6"/>
<path d="M960.5,1389.5 L963.5,1386.5" stroke="#aaa" stroke-width="0.7"/>
<circle cx="979.5" cy="1388.0" r="3.6" fill="#333" stroke="#888" stroke-width="0.6"/>
<path d="M978.0,1389.5 L981.0,1386.5" stroke="#aaa" stroke-width="0.7"/>
<circle cx="995.0" cy="1388.0" r="3.6" fill="#333" stroke="#888" stroke-width="0.6"/>
<path d="M993.5,1389.5 L996.5,1386.5" stroke="#aaa" stroke-width="0.7"/>
<path d="M851.3,1399.5 L1008.1,1400.0 L1008.1,1448.0 L851.3,1449.2 Z" fill="#fff" stroke="#3a3a3a" stroke-width="1.3"/>
<path d="M870.0,1399.5 L870.0,1448.5" fill="none" stroke="#3a3a3a" stroke-width="1.3"/>
<path d="M889.3,1399.5 L889.3,1448.5" fill="none" stroke="#3a3a3a" stroke-width="1.3"/>
<path d="M907.3,1399.5 L907.3,1448.5" fill="none" stroke="#3a3a3a" stroke-width="1.3"/>
<path d="M925.5,1399.5 L925.5,1448.5" fill="none" stroke="#3a3a3a" stroke-width="1.3"/>
<path d="M942.1,1399.5 L942.1,1448.5" fill="none" stroke="#3a3a3a" stroke-width="1.3"/>
<path d="M959.5,1399.5 L959.5,1448.5" fill="none" stroke="#3a3a3a" stroke-width="1.3"/>
<path d="M976.4,1399.5 L976.4,1448.5" fill="none" stroke="#3a3a3a" stroke-width="1.3"/>
<path d="M993.8,1399.5 L993.8,1448.5" fill="none" stroke="#3a3a3a" stroke-width="1.3"/>
<path d="M847.5,1449.2 L1003.8,1448.0 L1003.8,1465.5 Q1003.8,1467.9 1000.5,1468.1 L847.5,1472.9 Z" fill="#fff" stroke="#3a3a3a" stroke-width="1.3"/>
<path d="M865.5,1449.0 L865.5,1472.0" fill="none" stroke="#3a3a3a" stroke-width="1.3"/>
<path d="M884.3,1449.0 L884.3,1472.0" fill="none" stroke="#3a3a3a" stroke-width="1.3"/>
<path d="M903.0,1449.0 L903.0,1472.0" fill="none" stroke="#3a3a3a" stroke-width="1.3"/>
<path d="M921.0,1449.0 L921.0,1472.0" fill="none" stroke="#3a3a3a" stroke-width="1.3"/>
<path d="M937.1,1449.0 L937.1,1472.0" fill="none" stroke="#3a3a3a" stroke-width="1.3"/>
<path d="M953.5,1449.0 L953.5,1472.0" fill="none" stroke="#3a3a3a" stroke-width="1.3"/>
<path d="M970.8,1449.0 L970.8,1472.0" fill="none" stroke="#3a3a3a" stroke-width="1.3"/>
<path d="M988.2,1449.0 L988.2,1472.0" fill="none" stroke="#3a3a3a" stroke-width="1.3"/>
<rect x="853.0" y="1463.5" width="7" height="6" fill="#fff" stroke="#3a3a3a" stroke-width="0.8"/>
<circle cx="856.5" cy="1463.5" r="4.3" fill="#2e2e2e" stroke="#777" stroke-width="0.6"/>
<rect x="871.4" y="1463.5" width="7" height="6" fill="#fff" stroke="#3a3a3a" stroke-width="0.8"/>
<circle cx="874.9" cy="1463.5" r="4.3" fill="#2e2e2e" stroke="#777" stroke-width="0.6"/>
<rect x="890.1" y="1463.5" width="7" height="6" fill="#fff" stroke="#3a3a3a" stroke-width="0.8"/>
<circle cx="893.6" cy="1463.5" r="4.3" fill="#2e2e2e" stroke="#777" stroke-width="0.6"/>
<rect x="908.5" y="1463.5" width="7" height="6" fill="#fff" stroke="#3a3a3a" stroke-width="0.8"/>
<circle cx="912.0" cy="1463.5" r="4.3" fill="#2e2e2e" stroke="#777" stroke-width="0.6"/>
<rect x="925.5" y="1463.5" width="7" height="6" fill="#fff" stroke="#3a3a3a" stroke-width="0.8"/>
<circle cx="929.0" cy="1463.5" r="4.3" fill="#2e2e2e" stroke="#777" stroke-width="0.6"/>
<rect x="976.0" y="1463.5" width="7" height="6" fill="#fff" stroke="#3a3a3a" stroke-width="0.8"/>
<circle cx="979.5" cy="1463.5" r="4.3" fill="#2e2e2e" stroke="#777" stroke-width="0.6"/>
<rect x="992.5" y="1463.5" width="7" height="6" fill="#fff" stroke="#3a3a3a" stroke-width="0.8"/>
<circle cx="996.0" cy="1463.5" r="4.3" fill="#2e2e2e" stroke="#777" stroke-width="0.6"/>
<path d="M852.5,1412.5 L872.5,1412.5 Q869.5,1421.5 872.5,1430.5 L852.5,1430.5 Q855.5,1421.5 852.5,1412.5 Z" fill="#141414"/>
<path d="M853.0,1414.5 Q856.0,1421.5 853.0,1428.5" fill="none" stroke="#999" stroke-width="1.3"/>
<path d="M871.2,1412.5 L891.8,1412.5 Q888.8,1421.5 891.8,1430.5 L871.2,1430.5 Q874.2,1421.5 871.2,1412.5 Z" fill="#141414"/>
<path d="M871.7,1414.5 Q874.7,1421.5 871.7,1428.5" fill="none" stroke="#999" stroke-width="1.3"/>
<path d="M890.5,1412.5 L909.8,1412.5 Q906.8,1421.5 909.8,1430.5 L890.5,1430.5 Q893.5,1421.5 890.5,1412.5 Z" fill="#141414"/>
<path d="M891.0,1414.5 Q894.0,1421.5 891.0,1428.5" fill="none" stroke="#999" stroke-width="1.3"/>
<path d="M908.5,1412.5 L928.0,1412.5 Q925.0,1421.5 928.0,1430.5 L908.5,1430.5 Q911.5,1421.5 908.5,1412.5 Z" fill="#141414"/>
<path d="M909.0,1414.5 Q912.0,1421.5 909.0,1428.5" fill="none" stroke="#999" stroke-width="1.3"/>
<path d="M926.7,1412.5 L944.6,1412.5 Q941.6,1421.5 944.6,1430.5 L926.7,1430.5 Q929.7,1421.5 926.7,1412.5 Z" fill="#141414"/>
<path d="M927.2,1414.5 Q930.2,1421.5 927.2,1428.5" fill="none" stroke="#999" stroke-width="1.3"/>
<path d="M943.3,1412.5 L962.0,1412.5 Q959.0,1421.5 962.0,1430.5 L943.3,1430.5 Q946.3,1421.5 943.3,1412.5 Z" fill="#141414"/>
<path d="M943.8,1414.5 Q946.8,1421.5 943.8,1428.5" fill="none" stroke="#999" stroke-width="1.3"/>
<path d="M960.7,1412.5 L978.9,1412.5 Q975.9,1421.5 978.9,1430.5 L960.7,1430.5 Q963.7,1421.5 960.7,1412.5 Z" fill="#141414"/>
<path d="M961.2,1414.5 Q964.2,1421.5 961.2,1428.5" fill="none" stroke="#999" stroke-width="1.3"/>
<path d="M977.6,1412.5 L996.3,1412.5 Q993.3,1421.5 996.3,1430.5 L977.6,1430.5 Q980.6,1421.5 977.6,1412.5 Z" fill="#141414"/>
<path d="M978.1,1414.5 Q981.1,1421.5 978.1,1428.5" fill="none" stroke="#999" stroke-width="1.3"/>
<path d="M995.0,1412.5 L1010.6,1412.5 Q1007.6,1421.5 1010.6,1430.5 L995.0,1430.5 Q998.0,1421.5 995.0,1412.5 Z" fill="#141414"/>
<path d="M995.5,1414.5 Q998.5,1421.5 995.5,1428.5" fill="none" stroke="#999" stroke-width="1.3"/>
<path d="M939.4,1420.8 C938,1429 939,1436 941.3,1442.3 C944,1455 948,1475 954,1493.2 L991.2,1496.1 C984,1490 980,1486 978.5,1482.4 C975,1475 970,1460 964.8,1447.2 C962,1440 958,1433 951.1,1417.8 Z" fill="#fdfdfd" stroke="none"/>
<path d="M939.4,1420.8 C938,1429 939,1436 941.3,1442.3 C944,1455 948,1475 951.1,1484.4 C952,1488 953,1491 954,1493.2 M951.1,1417.8 C955,1425 958,1430 958,1431.5 C961,1438 963,1443 964.8,1447.2 C968,1456 972,1466 972.6,1467.7 C975,1475 977,1480 978.5,1482.4 C983,1490 987,1494 991.2,1496.1 C996,1498 1003,1498 1007.8,1499 C1010,1500 1011,1502 1012.2,1503.4 M954,1493.2 C946,1497 938,1500 935.4,1503 C934,1508 935,1516 939.4,1522.5 C943,1528 948,1535 952.1,1539.2 M941.3,1510.3 C946,1511 950,1512 954.5,1512.2 M954,1493.2 C955,1505 955,1525 952.1,1539.2 M922.7,1539.2 C927,1532 931,1526 936.4,1523.5" fill="none" stroke="#333" stroke-width="1.3"/>
<ellipse cx="946" cy="1422.7" rx="6" ry="4.2" transform="rotate(50 946 1422.7)" fill="#fff" stroke="#333" stroke-width="1.2"/>
<path d="M1065,1476.5 C1070,1465 1072,1452 1071.5,1444.7 C1071,1436 1068,1430 1064,1424.2" fill="none" stroke="#333" stroke-width="1.4"/>
<path d="M1050,1398 L1058.4,1426 L1069.6,1419.5 Z" fill="#111"/>
</svg>
</body></html>
